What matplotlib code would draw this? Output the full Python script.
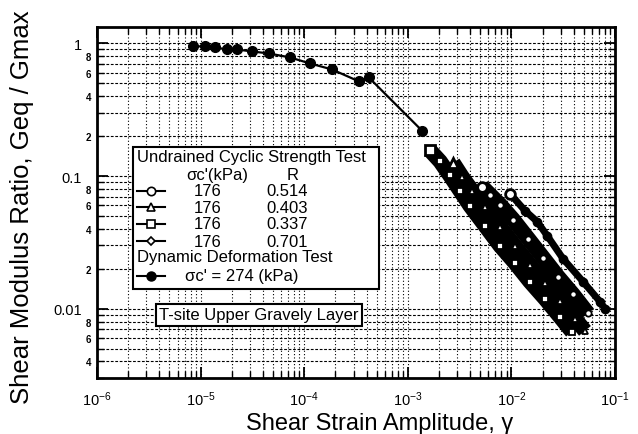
import numpy as np
import matplotlib.pyplot as plt
from matplotlib.patches import Rectangle
from matplotlib.ticker import FixedLocator, FixedFormatter, LogLocator, FuncFormatter

plt.rcParams['font.family'] = ['Liberation Sans', 'DejaVu Sans']
plt.rcParams['mathtext.fontset'] = 'custom'
plt.rcParams['mathtext.rm'] = 'Liberation Sans'

# Dynamic deformation test, sigma_c' = 274 kPa
ddt_strain = [8.45e-6, 1.10e-5, 1.38e-5, 1.80e-5, 2.25e-5, 3.13e-5, 4.57e-5,
              7.30e-5, 1.14e-4, 1.86e-4, 3.38e-4, 4.20e-4, 1.37e-3]
ddt_ratio = [0.95, 0.95, 0.933, 0.90, 0.90, 0.87, 0.84,
             0.784, 0.706, 0.636, 0.517, 0.554, 0.22]

# Undrained cyclic strength tests, sigma_c' = 176 kPa
sq_strain = [1.64e-3, 2.05e-3, 2.55e-3, 3.19e-3, 3.98e-3, 5.56e-3, 7.76e-3,
             1.08e-2, 1.51e-2, 2.11e-2, 2.94e-2, 3.85e-2]
sq_ratio = [0.156, 0.129, 0.101, 0.0777, 0.0599, 0.0423, 0.0299,
            0.0222, 0.0160, 0.0119, 0.0087, 0.0067]          # R = 0.337

tri_strain = [2.73e-3, 3.33e-3, 4.17e-3, 5.56e-3, 7.76e-3, 1.08e-2, 1.51e-2,
              2.11e-2, 2.94e-2, 4.11e-2, 5.13e-2]
tri_ratio = [0.126, 0.0991, 0.0777, 0.0589, 0.0416, 0.0299, 0.0215,
             0.0157, 0.0115, 0.0084, 0.0068]                 # R = 0.403

cir_strain = [5.20e-3, 6.21e-3, 7.76e-3, 1.04e-2, 1.45e-2, 2.02e-2, 2.82e-2,
              3.94e-2, 5.48e-2]
cir_ratio = [0.0833, 0.0725, 0.0610, 0.0470, 0.0338, 0.0243, 0.0174,
             0.0128, 0.0092]                                  # R = 0.514

dia_strain = [9.68e-3, 1.35e-2, 1.77e-2, 2.21e-2, 3.15e-2, 4.91e-2, 7.16e-2, 8.0e-2]
dia_ratio = [0.0738, 0.0549, 0.0454, 0.0356, 0.0238, 0.0160, 0.0113, 0.0100]  # R = 0.701

legend_rows = [("o", "176", "0.514"), ("^", "176", "0.403"),
               ("s", "176", "0.337"), ("D", "176", "0.701")]

fig = plt.figure(figsize=(6.38, 4.35), dpi=100)
ax = fig.add_axes([97 / 638, 1 - 379 / 435, 518 / 638, 351 / 435])
ax.set_xscale("log")
ax.set_yscale("log")
ax.set_xlim(1e-6, 1e-1)
ax.set_ylim(0.003, 1.33)

# grid: dotted verticals, dashed horizontals
ax.grid(which="both", axis="x", color="k", lw=0.8, ls=(0, (1, 2)))
ax.grid(which="both", axis="y", color="k", lw=0.8, ls=(0, (2.5, 1.5)))
ax.set_axisbelow(True)

# undrained tests: many cycles overlap -> solid black band with open markers
undrained = [(sq_strain, sq_ratio, "s", 4.5), (tri_strain, tri_ratio, "^", 5),
             (cir_strain, cir_ratio, "o", 4.5)]
for xs, ys, m, ms in undrained:
    ax.plot(xs, ys, "-", color="k", lw=11, solid_capstyle="butt", zorder=2)
for xs, ys, m, ms in undrained:
    ax.plot(xs, ys, ls="none", marker=m, ms=ms, mfc="w", mec="k", mew=1.3, zorder=3)
# first point of each series stands out above the band
for xs, ys, m, ms in undrained:
    ax.plot(xs[:1], ys[:1], ls="none", marker=m, ms=7, mfc="w", mec="k", mew=2, zorder=3)

ax.plot(dia_strain, dia_ratio, "-", color="k", lw=5, zorder=2)
ax.plot(dia_strain, dia_ratio, ls="none", marker="o", ms=6, mfc="k", mec="k", zorder=3)
ax.plot(dia_strain[:1], dia_ratio[:1], ls="none", marker="o", ms=7, mfc="w", mec="k",
        mew=2, zorder=3)

ax.plot(ddt_strain, ddt_ratio, "-", color="k", lw=1.6, marker="o", ms=7,
        mfc="k", mec="k", zorder=3)

# ticks
ax.tick_params(which="both", direction="in", top=True, right=True)
ax.tick_params(which="major", length=8, width=1.3)
ax.tick_params(which="minor", length=5, width=1.0)
ax.tick_params(axis="x", which="major", labelsize=10.5, pad=8)
ax.yaxis.set_major_locator(FixedLocator([0.01, 0.1, 1]))
ax.yaxis.set_major_formatter(FixedFormatter(["0.01", "0.1", "1"]))
ax.yaxis.set_minor_locator(LogLocator(base=10, subs=range(2, 10)))


def minor_label(v, pos):
    d = int(round(v / 10 ** np.floor(np.log10(v))))
    return str(d) if d in (2, 4, 6, 8) else ""


ax.yaxis.set_minor_formatter(FuncFormatter(minor_label))
ax.tick_params(axis="y", which="major", labelsize=10.5, pad=11)
ax.tick_params(axis="y", which="minor", labelsize=7, pad=4)
for lab in ax.yaxis.get_minorticklabels():
    lab.set_fontweight("bold")
for sp in ax.spines.values():
    sp.set_linewidth(2)

# legend box
ax.add_patch(Rectangle((0.0695, 0.2536), 0.4745, 0.4044, transform=ax.transAxes,
                       fc="w", ec="k", lw=1.5, zorder=5))
fs = 12
ax.text(0.077, 0.632, "Undrained Cyclic Strength Test", transform=ax.transAxes,
        ha="left", va="center", fontsize=fs, zorder=6)
ax.text(0.232, 0.581, "σc'(kPa)", transform=ax.transAxes, ha="center", va="center",
        fontsize=fs, zorder=6)
ax.text(0.378, 0.581, "R", transform=ax.transAxes, ha="center", va="center",
        fontsize=fs, zorder=6)
row_y = [0.533, 0.487, 0.439, 0.390]
for (m, s, r), yy in zip(legend_rows, row_y):
    ax.plot([0.077, 0.131], [yy, yy], "-", color="k", lw=1.5, transform=ax.transAxes,
            zorder=6, clip_on=False)
    ax.plot([0.104], [yy], ls="none", marker=m, ms=6 if m != "D" else 4.5, mfc="w",
            mec="k", mew=1.2, transform=ax.transAxes, zorder=7, clip_on=False)
    ax.text(0.214, yy, s, transform=ax.transAxes, ha="center", va="center",
            fontsize=fs, zorder=6)
    ax.text(0.367, yy, r, transform=ax.transAxes, ha="center", va="center",
            fontsize=fs, zorder=6)
ax.text(0.077, 0.345, "Dynamic Deformation Test", transform=ax.transAxes,
        ha="left", va="center", fontsize=fs, zorder=6)
ax.plot([0.077, 0.131], [0.291, 0.291], "-", color="k", lw=1.5, transform=ax.transAxes,
        zorder=6, clip_on=False)
ax.plot([0.104], [0.291], ls="none", marker="o", ms=6.5, mfc="k", mec="k",
        transform=ax.transAxes, zorder=7, clip_on=False)
ax.text(0.170, 0.291, "σc' = 274 (kPa)", transform=ax.transAxes, ha="left",
        va="center", fontsize=fs, zorder=6)

ax.text(0.313, 0.18, "T-site Upper Gravely Layer", transform=ax.transAxes,
        ha="center", va="center", fontsize=fs, zorder=6,
        bbox=dict(boxstyle="square,pad=0.2", fc="w", ec="k", lw=1.5))

fig.text(380 / 638, 1 - 424 / 435, "Shear Strain Amplitude, γ", ha="center",
         va="center", fontsize=17)
fig.text(22 / 638, 1 - 207 / 435, "Shear Modulus Ratio, Geq / Gmax", ha="center",
         va="center", rotation=90, fontsize=18.5)

fig.savefig("out.png", dpi=100)
